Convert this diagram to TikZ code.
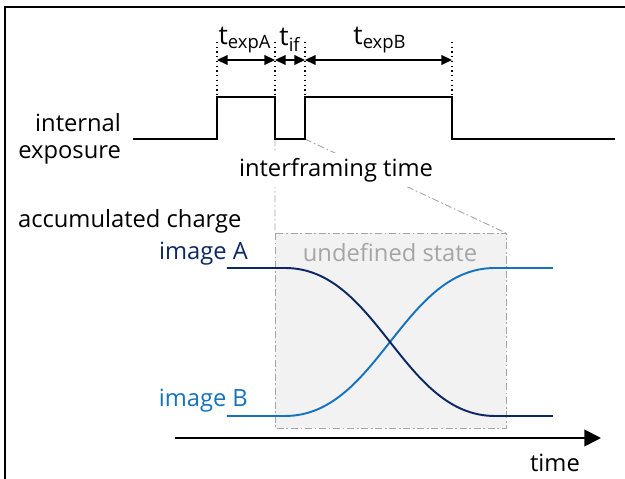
\documentclass[tikz,border=0pt]{standalone}
\usepackage{fontspec}
\setmainfont{Open Sans}
\usetikzlibrary{arrows.meta}

\definecolor{imgA}{RGB}{12,40,100}
\definecolor{imgB}{RGB}{22,115,190}
\definecolor{shade}{RGB}{242,242,242}
\definecolor{rim}{RGB}{165,165,165}

\tikzset{
  lbl/.style={font=\fontsize{13.5}{15.5}\selectfont, inner sep=1pt},
  tlbl/.style={font=\fontsize{15}{17}\selectfont, inner sep=1pt},
  signal/.style={line width=1.1pt},
  span/.style={line width=0.9pt, {Triangle[length=6pt,width=5.5pt]}-{Triangle[length=6pt,width=5.5pt]}},
  guide/.style={dotted, line width=0.7pt},
  zoomline/.style={draw=rim, line width=0.5pt, dash pattern=on 4pt off 1.5pt on 1pt off 1.5pt},
  charge/.style={line width=1.1pt},
}

\begin{document}
\begin{tikzpicture}[x=0.2mm, y=-0.2mm]

\useasboundingbox (0,0) rectangle (625,479);

\draw[line width=1.3pt] (5,479) -- (5,7) -- (625,7);

\path[zoomline, fill=shade] (275,233) rectangle (506,428);
\draw[zoomline] (275,139) -- (275,233)  (305,139) -- (506,233);

\draw[signal] (133,139) -- (217,139) -- (217,97) -- (275,97) -- (275,139) -- (305,139) -- (305,97) -- (452,97) -- (452,139) -- (615,139);

\foreach \x [count=\i from 0] in {217,275,305,452} {
  \draw[guide] (\x,42) -- (\x,97);
  \coordinate (e\i) at (\x,60);
}

\draw[span] (e0) -- (e1);
\draw[span] (e1) -- (e2);
\draw[span] (e2) -- (e3);

\node[tlbl] (texpA) at (245,40) {t\textsubscript{expA}};
\node[tlbl] (tif) at (290,40) {t\textsubscript{if}};
\node[tlbl] (texpB) at (380,40) {t\textsubscript{expB}};

\node[lbl, align=right, anchor=east] (exposure) at (123,139) {internal\\exposure};
\node[lbl, fill=white, inner sep=3pt] (interframe) at (336,170) {interframing time};

\node[lbl, anchor=west] (charge) at (16,221) {accumulated charge};
\node[lbl, anchor=east, text=imgA] (imageA) at (250,254) {image A};
\node[lbl, anchor=east, text=imgB] (imageB) at (250,401) {image B};
\node[lbl, text=rim] (undef) at (390,253) {undefined state};

\draw[charge, imgB] (227,416) -- (285,416) .. controls (378,416) and (402,268) .. (495,268) -- (553,268);
\draw[charge, imgA] (227,268) -- (285,268) .. controls (378,268) and (402,416) .. (495,416) -- (553,416);

\coordinate (t0) at (175,438);
\coordinate (t1) at (601,438);
\draw[line width=1.1pt, -{Triangle[length=9.5pt,width=9.5pt]}] (t0) -- (t1);
\node[lbl] (time) at (555,463) {time};

\end{tikzpicture}
\end{document}
